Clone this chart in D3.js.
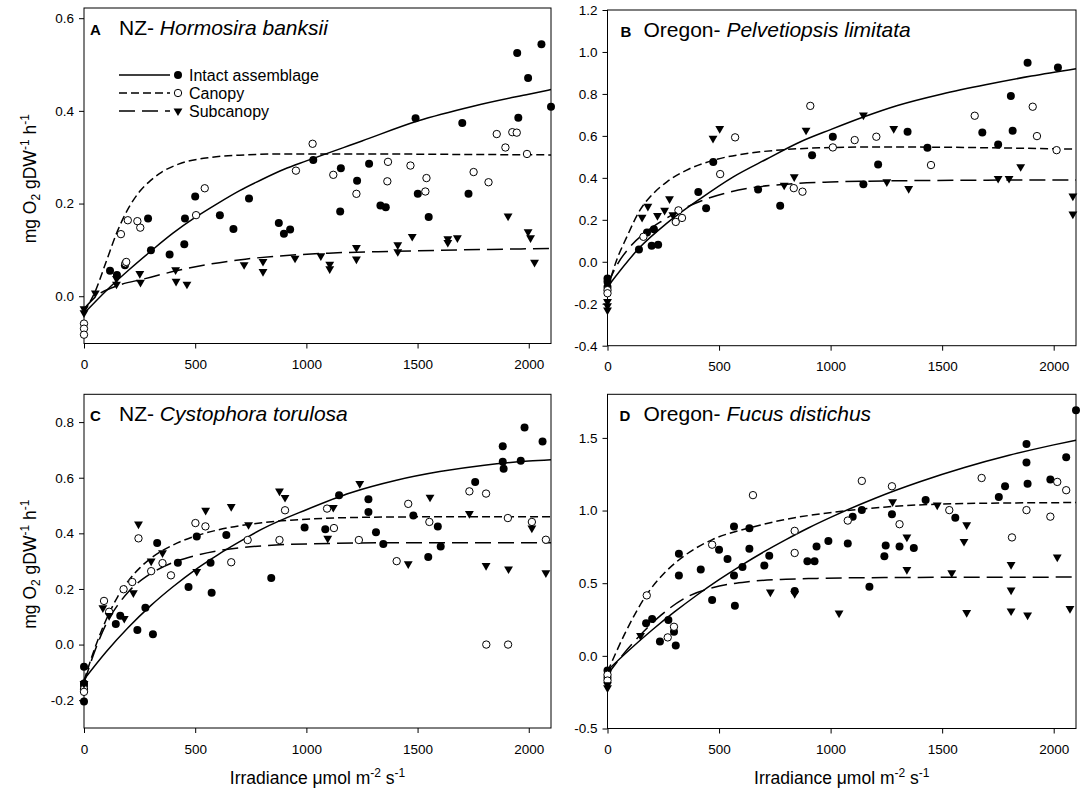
<!DOCTYPE html>
<html>
<head>
<meta charset="utf-8">
<script src="https://cdn.jsdelivr.net/npm/d3@7"></script>
<style>
  body { margin: 0; background: #fff; }
  svg { font-family: Arial, "Liberation Sans", sans-serif; }
</style>
</head>
<body>
<svg id="chart"></svg>
<script>
// ---- values: [irradiance, mg O2 gDW-1 h-1] ----

const xTicks = [0, 500, 1000, 1500, 2000];
const yTicksA = [0, 0.2, 0.4, 0.6];
const yTicksB = [-0.4, -0.2, 0, 0.2, 0.4, 0.6, 0.8, 1.0, 1.2];
const yTicksC = [-0.2, 0, 0.2, 0.4, 0.6, 0.8];
const yTicksD = [-0.5, 0, 0.5, 1.0, 1.5];

const seriesNames = ['Intact assemblage', 'Canopy', 'Subcanopy'];

// A  NZ- Hormosira banksii
const aIntact = [[117,0.055],[148,0.046],[184,0.067],[288,0.168],[301,0.099],[385,0.09],[451,0.112],[454,0.168],[500,0.215],[611,0.175],[672,0.145],[742,0.211],[876,0.158],[899,0.135],[927,0.144],[1031,0.294],[1152,0.183],[1155,0.276],[1228,0.249],[1282,0.286],[1333,0.196],[1357,0.192],[1491,0.384],[1501,0.221],[1550,0.171],[1701,0.374],[1729,0.221],[1948,0.525],[1953,0.385],[1997,0.471],[2057,0.544],[2100,0.409]];
const aCanopy = [[0,-0.059],[0,-0.07],[0,-0.083],[166,0.134],[186,0.071],[190,0.074],[197,0.164],[240,0.162],[253,0.148],[504,0.175],[543,0.233],[953,0.271],[1028,0.329],[1121,0.262],[1225,0.221],[1364,0.248],[1367,0.29],[1468,0.282],[1535,0.226],[1540,0.255],[1752,0.268],[1819,0.246],[1856,0.35],[1895,0.321],[1926,0.354],[1946,0.353],[1992,0.307]];
const aSub = [[0,-0.027],[0,-0.036],[51,0.007],[146,0.038],[146,0.026],[251,0.049],[254,0.03],[412,0.057],[414,0.032],[463,0.026],[720,0.068],[805,0.075],[805,0.053],[949,0.082],[1065,0.087],[1105,0.069],[1105,0.059],[1225,0.105],[1225,0.08],[1411,0.111],[1411,0.096],[1476,0.129],[1636,0.124],[1636,0.116],[1679,0.126],[1907,0.173],[1997,0.139],[2008,0.126],[2026,0.073]];
const aFitIntact = [[0,-0.037],[100,0.012],[200,0.056],[300,0.097],[400,0.136],[500,0.17],[600,0.2],[700,0.228],[800,0.252],[900,0.274],[1000,0.292],[1250,0.335],[1500,0.378],[1750,0.41],[2000,0.436],[2100,0.446]];
const aFitCanopy = [[0,-0.034],[50,0.01],[100,0.075],[150,0.14],[200,0.19],[250,0.226],[300,0.25],[350,0.268],[425,0.285],[575,0.3],[725,0.305],[900,0.307],[1300,0.307],[1700,0.306],[2100,0.305]];
const aFitSub = [[0,-0.027],[60,0.002],[135,0.02],[275,0.038],[425,0.056],[575,0.07],[725,0.08],[880,0.087],[1100,0.093],[1400,0.097],[1700,0.1],[2100,0.103]];

// B  Oregon- Pelvetiopsis limitata
const bIntact = [[0,-0.08],[0,-0.095],[0,-0.12],[141,0.059],[177,0.14],[198,0.076],[208,0.155],[227,0.081],[407,0.333],[442,0.255],[474,0.475],[675,0.344],[774,0.267],[917,0.508],[1010,0.596],[1147,0.369],[1213,0.464],[1345,0.62],[1434,0.543],[1680,0.616],[1751,0.559],[1808,0.79],[1816,0.624],[1883,0.948],[2019,0.926]];
const bCanopy = [[0,-0.135],[0,-0.15],[161,0.119],[306,0.19],[318,0.245],[334,0.209],[505,0.418],[572,0.593],[835,0.351],[874,0.334],[909,0.743],[1010,0.545],[1108,0.58],[1205,0.596],[1450,0.461],[1646,0.696],[1906,0.739],[1925,0.599],[2013,0.532]];
const bSub = [[0,-0.19],[0,-0.21],[0,-0.23],[155,0.212],[181,0.264],[224,0.22],[256,0.245],[278,0.3],[293,0.224],[473,0.588],[503,0.635],[792,0.365],[837,0.405],[890,0.627],[1147,0.699],[1252,0.381],[1283,0.635],[1350,0.349],[1751,0.397],[1800,0.397],[1852,0.453],[2086,0.313],[2086,0.227]];
const bFitIntact = [[0,-0.12],[146,0.07],[265,0.183],[415,0.3],[564,0.405],[714,0.49],[863,0.571],[1000,0.63],[1147,0.69],[1300,0.745],[1500,0.8],[1700,0.845],[1900,0.885],[2100,0.92]];
const bFitCanopy = [[0,-0.13],[40,0.005],[85,0.115],[145,0.245],[205,0.325],[265,0.38],[355,0.437],[475,0.484],[625,0.516],[775,0.533],[950,0.543],[1200,0.547],[1500,0.546],[1800,0.542],[2100,0.537]];
const bFitSub = [[0,-0.11],[40,-0.02],[100,0.07],[170,0.14],[245,0.195],[325,0.245],[445,0.3],[625,0.349],[805,0.37],[1000,0.38],[1300,0.386],[1700,0.389],[2100,0.39]];

// C  NZ- Cystophora torulosa
const cIntact = [[0,-0.08],[0,-0.14],[0,-0.15],[0,-0.205],[143,0.074],[163,0.104],[240,0.052],[276,0.132],[310,0.037],[329,0.365],[422,0.294],[470,0.207],[507,0.389],[569,0.294],[574,0.186],[640,0.394],[842,0.239],[992,0.421],[1085,0.415],[1147,0.537],[1279,0.523],[1279,0.477],[1313,0.404],[1346,0.362],[1481,0.464],[1548,0.315],[1591,0.425],[1604,0.353],[1759,0.585],[1883,0.713],[1883,0.657],[1887,0.632],[1964,0.661],[1981,0.781],[2062,0.73]];
const cCanopy = [[0,-0.16],[0,-0.17],[90,0.157],[113,0.118],[178,0.199],[217,0.225],[245,0.382],[302,0.264],[353,0.293],[391,0.249],[501,0.437],[546,0.425],[662,0.296],[736,0.376],[879,0.376],[904,0.483],[1093,0.489],[1124,0.419],[1236,0.376],[1406,0.3],[1458,0.506],[1553,0.441],[1733,0.551],[1808,0.543],[1809,0.0],[1906,0.455],[1907,0.0],[2014,0.441],[2077,0.377]];
const cSub = [[0,-0.14],[85,0.132],[113,0.104],[181,0.094],[222,0.186],[245,0.433],[302,0.3],[353,0.33],[507,0.263],[547,0.483],[662,0.496],[740,0.431],[879,0.552],[904,0.529],[1096,0.382],[1121,0.493],[1240,0.579],[1458,0.29],[1556,0.53],[1733,0.471],[1808,0.284],[1909,0.272],[2014,0.419],[2077,0.258]];
const cFitIntact = [[0,-0.126],[100,-0.026],[200,0.062],[300,0.14],[400,0.208],[500,0.269],[600,0.322],[700,0.37],[800,0.415],[1000,0.485],[1200,0.546],[1400,0.59],[1600,0.622],[1800,0.645],[2000,0.66],[2100,0.665]];
const cFitCanopy = [[0,-0.13],[50,-0.01],[100,0.09],[150,0.17],[200,0.23],[250,0.275],[300,0.31],[350,0.337],[400,0.358],[500,0.39],[600,0.412],[800,0.438],[1000,0.451],[1300,0.458],[1700,0.46],[2100,0.46]];
const cFitSub = [[0,-0.138],[50,-0.02],[100,0.075],[150,0.14],[200,0.19],[300,0.255],[400,0.295],[500,0.32],[600,0.337],[800,0.355],[1000,0.362],[1400,0.366],[2100,0.366]];

// D  Oregon- Fucus distichus
const dIntact = [[0,-0.1],[0,-0.15],[173,0.225],[200,0.253],[235,0.098],[273,0.246],[298,0.166],[306,0.071],[320,0.703],[320,0.553],[418,0.594],[469,0.385],[500,0.73],[538,0.667],[567,0.89],[567,0.553],[571,0.344],[605,0.612],[636,0.878],[636,0.737],[703,0.621],[725,0.689],[839,0.446],[896,0.651],[928,0.651],[937,0.753],[990,0.79],[1077,0.774],[1099,0.958],[1140,1.003],[1174,0.476],[1241,0.685],[1247,0.76],[1275,0.974],[1309,0.753],[1373,0.742],[1426,1.072],[1559,0.951],[1754,1.094],[1782,1.167],[1878,1.458],[1878,1.331],[1883,1.185],[1985,1.213],[2056,1.367],[2100,1.69]];
const dCanopy = [[0,-0.13],[0,-0.17],[176,0.416],[270,0.127],[298,0.2],[469,0.765],[652,1.106],[839,0.86],[839,0.708],[1077,0.931],[1140,1.204],[1275,1.167],[1309,0.906],[1532,1.003],[1677,1.224],[1813,0.815],[1878,1.003],[1985,0.958],[2016,1.197],[2056,1.14]];
const dSub = [[0,-0.2],[0,-0.22],[148,0.139],[730,0.439],[839,0.428],[1038,0.294],[1278,1.06],[1342,0.817],[1342,0.594],[1478,1.037],[1543,0.571],[1598,0.787],[1610,0.901],[1610,0.298],[1809,0.628],[1809,0.453],[1809,0.309],[1883,0.28],[2016,0.68],[2073,0.325]];
const dFitIntact = [[0,-0.1],[100,0.044],[200,0.178],[300,0.302],[400,0.417],[500,0.524],[600,0.623],[700,0.715],[800,0.8],[900,0.88],[1000,0.953],[1200,1.085],[1400,1.198],[1600,1.296],[1800,1.38],[2000,1.452],[2100,1.484]];
const dFitCanopy = [[0,-0.11],[80,0.16],[175,0.42],[255,0.57],[350,0.695],[470,0.8],[630,0.878],[785,0.935],[1020,0.99],[1250,1.025],[1500,1.045],[1800,1.052],[2100,1.055]];
const dFitSub = [[0,-0.13],[70,0.01],[145,0.14],[240,0.28],[350,0.4],[470,0.468],[630,0.51],[800,0.527],[940,0.533],[1250,0.539],[1700,0.541],[2100,0.542]];

// ---- layout ----
const width = 1084;
const height = 797;
const svg = d3.select('svg#chart').attr('width', width).attr('height', height);

const panels = [
  {letter: 'A', place: 'NZ- ', species: 'Hormosira banksii', left: 84, top: 8, right: 551, bottom: 343.5,
   letterX: 6, nameX: 35, yDomain: [-0.102, 0.622], yTicks: yTicksA,
   pts: [aIntact, aCanopy, aSub], fits: [aFitIntact, aFitCanopy, aFitSub], yTitle: true, xTitle: false, legend: true},
  {letter: 'B', place: 'Oregon- ', species: 'Pelvetiopsis limitata', left: 607.5, top: 10, right: 1076, bottom: 345.7,
   letterX: 13, nameX: 36, yDomain: [-0.4, 1.2], yTicks: yTicksB,
   pts: [bIntact, bCanopy, bSub], fits: [bFitIntact, bFitCanopy, bFitSub], yTitle: false, xTitle: false, legend: false},
  {letter: 'C', place: 'NZ- ', species: 'Cystophora torulosa', left: 84, top: 394.3, right: 551, bottom: 728,
   letterX: 6, nameX: 35, yDomain: [-0.3, 0.9], yTicks: yTicksC,
   pts: [cIntact, cCanopy, cSub], fits: [cFitIntact, cFitCanopy, cFitSub], yTitle: true, xTitle: true, legend: false},
  {letter: 'D', place: 'Oregon- ', species: 'Fucus distichus', left: 607.5, top: 394.3, right: 1076, bottom: 728.5,
   letterX: 12, nameX: 36, yDomain: [-0.5, 1.8], yTicks: yTicksD,
   pts: [dIntact, dCanopy, dSub], fits: [dFitIntact, dFitCanopy, dFitSub], yTitle: false, xTitle: true, legend: false}
];

const dashes = [null, '8,4', '16,7'];
const triangle = d3.symbol().type(d3.symbolTriangle).size(34);

function drawMarker(sel, kind) {
  if (kind === 0) {
    sel.append('circle').attr('r', 4).attr('fill', '#000');
  } else if (kind === 1) {
    sel.append('circle').attr('r', 3.7).attr('fill', '#fff').attr('stroke', '#000').attr('stroke-width', 1);
  } else {
    sel.append('path').attr('d', triangle).attr('transform', 'rotate(180)').attr('fill', '#000');
  }
}

panels.forEach(p => {
  const w = p.right - p.left;
  const h = p.bottom - p.top;
  const g = svg.append('g').attr('transform', 'translate(' + p.left + ',' + p.top + ')');

  const x = d3.scaleLinear().domain([0, 2100]).range([0, w]);
  const y = d3.scaleLinear().domain(p.yDomain).range([h, 0]);

  // axes: outward ticks on left and bottom, box drawn separately
  const yAxis = g.append('g')
    .call(d3.axisLeft(y).tickValues(p.yTicks).tickSize(5).tickPadding(5).tickFormat(d => d.toFixed(1)));
  const xAxis = g.append('g').attr('transform', 'translate(0,' + h + ')')
    .call(d3.axisBottom(x).tickValues(xTicks).tickSize(5).tickPadding(11).tickFormat(d => String(d)));
  [yAxis, xAxis].forEach(a => {
    a.select('.domain').remove();
    a.attr('font-family', null).attr('font-size', null);
    a.selectAll('text').attr('font-size', '13.5px').attr('fill', '#000');
    a.selectAll('line').attr('stroke', '#000');
  });

  g.append('rect').attr('width', w).attr('height', h)
    .attr('fill', 'none').attr('stroke', '#000').attr('stroke-width', 1);

  // fitted curves
  const line = d3.line().x(d => x(d[0])).y(d => y(d[1])).curve(d3.curveMonotoneX);
  p.fits.forEach((f, i) => {
    g.append('path').datum(f).attr('d', line)
      .attr('fill', 'none').attr('stroke', '#000').attr('stroke-width', 1.5)
      .attr('stroke-dasharray', dashes[i]);
  });

  // points
  p.pts.forEach((s, i) => {
    g.append('g').selectAll('g').data(s).enter().append('g')
      .attr('transform', d => 'translate(' + x(d[0]) + ',' + y(d[1]) + ')')
      .each(function() { drawMarker(d3.select(this), i); });
  });

  // panel title
  const t = g.append('text').attr('y', 27);
  t.append('tspan').attr('x', p.letterX).attr('font-weight', 'bold').attr('font-size', '15px').text(p.letter);
  t.append('tspan').attr('x', p.nameX).attr('font-size', '21px').text(p.place);
  t.append('tspan').attr('font-size', '21px').attr('font-style', 'italic').text(p.species);

  if (p.legend) {
    const lg = g.append('g');
    seriesNames.forEach((name, i) => {
      const cy = 67 + i * 18;
      lg.append('line').attr('x1', 35).attr('x2', 86).attr('y1', cy).attr('y2', cy)
        .attr('stroke', '#000').attr('stroke-width', 1.5).attr('stroke-dasharray', dashes[i]);
      drawMarker(lg.append('g').attr('transform', 'translate(94,' + cy + ')'), i);
      lg.append('text').attr('x', 105).attr('y', cy + 5.8).attr('font-size', '16px').text(name);
    });
  }

  if (p.yTitle) {
    const yt = svg.append('text')
      .attr('transform', 'translate(36,' + (p.top + h / 2 + 3) + ') rotate(-90)')
      .attr('text-anchor', 'middle').attr('font-size', '17.5px');
    yt.append('tspan').text('mg O');
    yt.append('tspan').attr('font-size', '12px').attr('dy', 4).text('2');
    yt.append('tspan').attr('dy', -4).text(' gDW');
    yt.append('tspan').attr('font-size', '12px').attr('dy', -7).text('-1');
    yt.append('tspan').attr('dy', 7).text(' h');
    yt.append('tspan').attr('font-size', '12px').attr('dy', -7).text('-1');
  }

  if (p.xTitle) {
    const xt = svg.append('text')
      .attr('x', p.left + w / 2).attr('y', 784)
      .attr('text-anchor', 'middle').attr('font-size', '17.5px');
    xt.append('tspan').text('Irradiance \u03bcmol m');
    xt.append('tspan').attr('font-size', '12px').attr('dy', -7).text('-2');
    xt.append('tspan').attr('dy', 7).text(' s');
    xt.append('tspan').attr('font-size', '12px').attr('dy', -7).text('-1');
  }
});
</script>
</body>
</html>
